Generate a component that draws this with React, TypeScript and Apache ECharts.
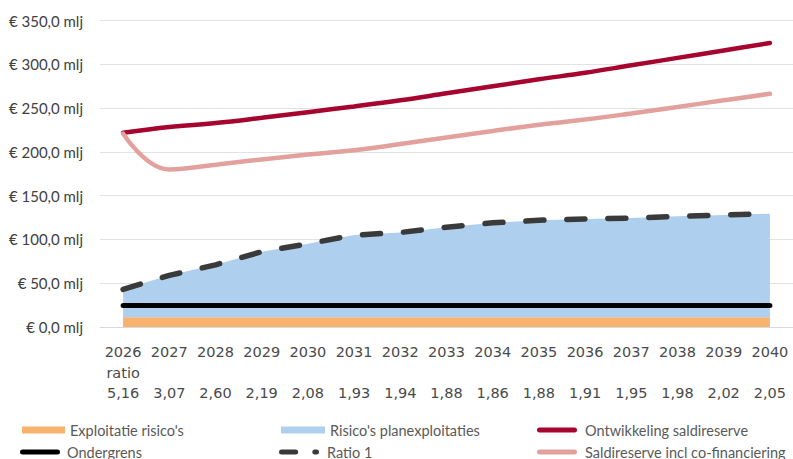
import React, { useEffect, useRef } from "react";
import * as echarts from "echarts";

const years = ["2026", "2027", "2028", "2029", "2030", "2031", "2032", "2033", "2034", "2035", "2036", "2037", "2038", "2039", "2040"];
const ratioLabels = ["5,16", "3,07", "2,60", "2,19", "2,08", "1,93", "1,94", "1,88", "1,86", "1,88", "1,91", "1,95", "1,98", "2,02", "2,05"];
const exploitatieRisicos = [11, 11, 11, 11, 11, 11, 11, 11, 11, 11, 11, 11, 11, 11, 11];
const planexploitaties = [32, 48, 60, 75, 84, 94, 97, 103, 108, 111, 112.5, 113.5, 115.5, 117, 118.5];
const ontwikkelingSaldireserve = [222, 228.5, 233, 239, 245.5, 252, 259, 267, 275, 283, 290.5, 299, 307.5, 316, 324.5];
const ondergrens = [24.5, 24.5, 24.5, 24.5, 24.5, 24.5, 24.5, 24.5, 24.5, 24.5, 24.5, 24.5, 24.5, 24.5, 24.5];
const ratio1 = [43, 59, 71, 86, 95, 105, 108, 114, 119, 122, 123.5, 124.5, 126.5, 128, 129.5];
const saldiCoFin = [221, 180, 185.5, 191.5, 197, 202, 209, 216.5, 224, 231, 237, 244, 251.5, 259, 266.5];

const LINE_ICON = "path://M3,0L45,0A3,3,0,0,1,45,6L3,6A3,3,0,0,1,3,0Z";
const DASH_ICON = "path://M3,0L20,0A3,3,0,0,1,20,6L3,6A3,3,0,0,1,3,0Z M43,0L45,0A3,3,0,0,1,45,6L43,6A3,3,0,0,1,43,0Z";

const legendText = { fontFamily: "Lato", fontSize: 14.5, color: "#595959", lineHeight: 18 };

function mkLegend(name: string, icon: string, left: number, top: number, w: number, h: number) {
  return {
    data: [{ name, icon }],
    left,
    top,
    itemWidth: w,
    itemHeight: h,
    padding: 0,
    selectedMode: false,
    itemStyle: { borderWidth: 0 },
    textStyle: legendText,
  };
}

export default function App() {
  const ref = useRef<HTMLDivElement>(null);
  useEffect(() => {
    if (!ref.current) return;
    const chart = echarts.init(ref.current, undefined, { renderer: "svg" });
    chart.setOption({
      animation: false,
      backgroundColor: "#ffffff",
      grid: { left: 100, top: 20.7, width: 699.6, height: 306.3, containLabel: false },
      legend: [
        mkLegend("Exploitatie risico's", "rect", 22, 421, 43, 7),
        mkLegend("Risico's planexploitaties", "rect", 281, 421, 44, 7),
        mkLegend("Ontwikkeling saldireserve", LINE_ICON, 537, 421, 46, 5),
        mkLegend("Ondergrens", LINE_ICON, 20, 443, 44, 5),
        mkLegend("Ratio 1", DASH_ICON, 279, 443, 46, 5),
        mkLegend("Saldireserve incl co-financiering", LINE_ICON, 537, 443, 46, 5),
      ],
      xAxis: {
        type: "category",
        data: years,
        boundaryGap: true,
        axisTick: { show: false },
        axisLine: { show: true, lineStyle: { color: "#d9d9d9", width: 1 } },
        axisLabel: {
          interval: 0,
          margin: 15,
          fontFamily: "DejaVu Sans",
          fontSize: 14.5,
          lineHeight: 20.5,
          color: "#4a4a4a",
          formatter: (v: string, i: number) => `${v}\n${i === 0 ? "ratio" : " "}\n${ratioLabels[i]}`,
        },
      },
      yAxis: {
        type: "value",
        min: 0,
        max: 350,
        interval: 50,
        axisLine: { show: false },
        axisTick: { show: false },
        splitLine: { lineStyle: { color: "#e2e2e2", width: 1 } },
        axisLabel: {
          margin: 17,
          fontFamily: "Lato",
          fontSize: 15,
          color: "#404040",
          formatter: (v: number) => "€ " + v.toFixed(1).replace(".", ",") + " mlj",
        },
      },
      series: [
        {
          name: "Exploitatie risico's",
          type: "line",
          stack: "risk",
          data: exploitatieRisicos,
          symbol: "none",
          color: "#F7B26E",
          lineStyle: { width: 0 },
          areaStyle: { color: "#F7B26E", opacity: 1 },
          z: 1,
        },
        {
          name: "Risico's planexploitaties",
          type: "line",
          stack: "risk",
          data: planexploitaties,
          symbol: "none",
          color: "#AFCFEE",
          lineStyle: { width: 0 },
          areaStyle: { color: "#AFCFEE", opacity: 1 },
          z: 1,
        },
        {
          name: "Ontwikkeling saldireserve",
          type: "line",
          data: ontwikkelingSaldireserve,
          symbol: "none",
          smooth: 0.4,
          color: "#A6052F",
          lineStyle: { width: 4.5, color: "#A6052F", cap: "round" },
          z: 3,
        },
        {
          name: "Ondergrens",
          type: "line",
          data: ondergrens,
          symbol: "none",
          color: "#000000",
          lineStyle: { width: 5, color: "#000000", cap: "round" },
          z: 3,
        },
        {
          name: "Ratio 1",
          type: "line",
          data: ratio1,
          symbol: "none",
          color: "#3a3a3a",
          lineStyle: { width: 5.5, color: "#3a3a3a", type: [18, 23], cap: "round" },
          z: 4,
        },
        {
          name: "Saldireserve incl co-financiering",
          type: "line",
          data: saldiCoFin,
          symbol: "none",
          smooth: 0.45,
          color: "#E2A19D",
          lineStyle: { width: 4.5, color: "#E2A19D", cap: "round" },
          z: 4,
        },
      ],
    });
    return () => chart.dispose();
  }, []);
  return <div ref={ref} style={{ position: "fixed", left: 0, top: 0, width: 793, height: 459 }} />;
}
